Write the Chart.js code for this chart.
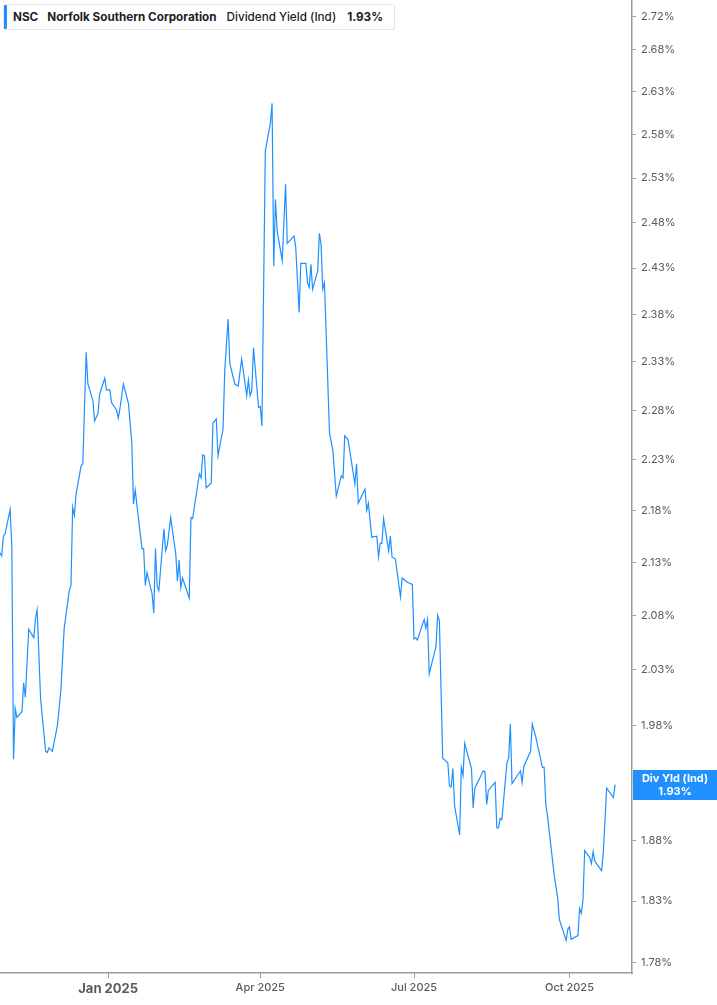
<!DOCTYPE html>
<html>
<head>
<meta charset="utf-8">
<script src="https://cdn.jsdelivr.net/npm/chart.js@4/dist/chart.umd.min.js"></script>
<style>
  html, body { margin: 0; padding: 0; background: #fff; }
  #wrap { position: relative; width: 717px; height: 1005px; }
  #badge {
    position: absolute; left: 3px; top: 4px; width: 392px; height: 26px;
    border: 1px solid #e4e6ea; border-radius: 2px; background: #fff;
    font-family: Inter, "Noto Sans", sans-serif; font-size: 11.7px; color: #1b1d29;
    display: flex; align-items: center; box-sizing: border-box; white-space: nowrap;
  }
  #badge span { flex: none; }
  #badge .bar { width: 3px; height: 24px; background: #1e90ff; margin-right: 6px; border-radius: 1px; }
  #badge .tk { font-weight: 700; margin-right: 9px; }
  #badge .nm { font-weight: 700; margin-right: 10px; }
  #badge .mt { font-weight: 500; margin-right: 11px; }
  #badge .vl { font-weight: 700; }
</style>
</head>
<body>
<div id="wrap">
  <canvas id="chart"></canvas>
  <div id="badge"><span class="bar"></span><span class="tk" id="tk"></span><span class="nm" id="nm"></span><span class="mt" id="mt"></span><span class="vl" id="vl"></span></div>
</div>
<script>
const ticker = "NSC";
const companyName = "Norfolk Southern Corporation";
const metricName = "Dividend Yield (Ind)";
const shortName = "Div Yld (Ind)";

// daily dividend yield (%)
const dates = [
  "2024-10-29","2024-10-30","2024-10-31","2024-11-01","2024-11-04","2024-11-05","2024-11-06","2024-11-07","2024-11-08","2024-11-11",
  "2024-11-12","2024-11-13","2024-11-15","2024-11-18","2024-11-19","2024-11-20","2024-11-22","2024-11-25","2024-11-26","2024-11-27",
  "2024-11-29","2024-12-02","2024-12-04","2024-12-06","2024-12-09","2024-12-10","2024-12-11","2024-12-12","2024-12-13","2024-12-16",
  "2024-12-17","2024-12-19","2024-12-20","2024-12-23","2024-12-24","2024-12-26","2024-12-27","2024-12-30","2024-12-31","2025-01-02",
  "2025-01-03","2025-01-06","2025-01-07","2025-01-08","2025-01-10","2025-01-13","2025-01-15","2025-01-16","2025-01-17","2025-01-21",
  "2025-01-22","2025-01-23","2025-01-24","2025-01-27","2025-01-28","2025-01-29","2025-01-30","2025-01-31","2025-02-03","2025-02-04",
  "2025-02-05","2025-02-07","2025-02-10","2025-02-11","2025-02-12","2025-02-13","2025-02-14","2025-02-18","2025-02-19","2025-02-20",
  "2025-02-24","2025-02-25","2025-02-26","2025-02-27","2025-02-28","2025-03-03","2025-03-04","2025-03-06","2025-03-07","2025-03-10",
  "2025-03-11","2025-03-13","2025-03-14","2025-03-17","2025-03-19","2025-03-21","2025-03-24","2025-03-25","2025-03-26","2025-03-27",
  "2025-03-28","2025-03-31","2025-04-01","2025-04-02","2025-04-04","2025-04-07","2025-04-08","2025-04-09","2025-04-10","2025-04-11",
  "2025-04-14","2025-04-16","2025-04-17","2025-04-21","2025-04-22","2025-04-24","2025-04-25","2025-04-28","2025-04-29","2025-04-30",
  "2025-05-01","2025-05-02","2025-05-05","2025-05-06","2025-05-07","2025-05-08","2025-05-09","2025-05-12","2025-05-14","2025-05-16",
  "2025-05-19","2025-05-20","2025-05-21","2025-05-23","2025-05-27","2025-05-28","2025-05-29","2025-06-02","2025-06-03","2025-06-04",
  "2025-06-06","2025-06-09","2025-06-10","2025-06-11","2025-06-12","2025-06-13","2025-06-16","2025-06-17","2025-06-18","2025-06-20",
  "2025-06-23","2025-06-24","2025-06-27","2025-06-30","2025-07-01","2025-07-02","2025-07-03","2025-07-07","2025-07-08","2025-07-09",
  "2025-07-10","2025-07-14","2025-07-15","2025-07-16","2025-07-18","2025-07-21","2025-07-22","2025-07-23","2025-07-24","2025-07-25",
  "2025-07-28","2025-07-29","2025-07-30","2025-07-31","2025-08-04","2025-08-05","2025-08-06","2025-08-11","2025-08-12","2025-08-13",
  "2025-08-14","2025-08-18","2025-08-19","2025-08-20","2025-08-21","2025-08-22","2025-08-25","2025-08-26","2025-08-27","2025-08-28",
  "2025-09-02","2025-09-03","2025-09-04","2025-09-08","2025-09-09","2025-09-11","2025-09-15","2025-09-16","2025-09-17","2025-09-18",
  "2025-09-22","2025-09-24","2025-09-25","2025-09-29","2025-09-30","2025-10-01","2025-10-02","2025-10-06","2025-10-07","2025-10-08",
  "2025-10-09","2025-10-10","2025-10-13","2025-10-14","2025-10-15","2025-10-16","2025-10-20","2025-10-21","2025-10-23","2025-10-27",
  "2025-10-28"
];
const yields = [
  2.139,2.136,2.155,2.157,2.181,2.144,1.950,1.995,1.987,1.992,
  2.018,2.005,2.067,2.059,2.077,2.085,2.004,1.957,1.956,1.960,
  1.957,1.980,2.011,2.068,2.103,2.108,2.183,2.175,2.196,2.224,
  2.226,2.340,2.307,2.290,2.269,2.277,2.297,2.313,2.301,2.301,
  2.288,2.280,2.272,2.282,2.307,2.287,2.247,2.186,2.200,2.143,
  2.143,2.108,2.120,2.100,2.082,2.143,2.107,2.103,2.162,2.141,
  2.146,2.173,2.138,2.112,2.132,2.106,2.115,2.096,2.173,2.172,
  2.216,2.212,2.235,2.234,2.202,2.207,2.267,2.271,2.234,2.261,
  2.321,2.375,2.328,2.307,2.305,2.333,2.295,2.311,2.295,2.300,
  2.345,2.283,2.284,2.264,2.561,2.593,2.616,2.432,2.506,2.471,
  2.438,2.523,2.457,2.465,2.453,2.382,2.435,2.435,2.414,2.409,
  2.434,2.407,2.427,2.468,2.456,2.407,2.414,2.257,2.239,2.194,
  2.214,2.212,2.254,2.250,2.206,2.226,2.187,2.201,2.180,2.187,
  2.154,2.155,2.135,2.148,2.148,2.172,2.141,2.155,2.135,2.133,
  2.097,2.115,2.111,2.109,2.058,2.059,2.057,2.076,2.068,2.076,
  2.026,2.051,2.080,2.075,1.951,1.947,1.927,1.926,1.942,1.910,
  1.885,1.943,1.936,1.964,1.942,1.908,1.925,1.940,1.939,1.911,
  1.923,1.930,1.891,1.891,1.899,1.898,1.947,1.951,1.981,1.929,
  1.940,1.930,1.944,1.957,1.981,1.970,1.943,1.943,1.911,1.901,
  1.851,1.833,1.815,1.798,1.807,1.809,1.799,1.802,1.824,1.820,
  1.831,1.872,1.866,1.861,1.871,1.863,1.855,1.870,1.925,1.917,
  1.928
];

const yTicks = [1.78, 1.83, 1.88, 1.93, 1.98, 2.03, 2.08, 2.13, 2.18, 2.23, 2.28, 2.33, 2.38, 2.43, 2.48, 2.53, 2.58, 2.63, 2.68, 2.72];
const xTickDates = ["2025-01-01", "2025-04-01", "2025-07-01", "2025-10-01"];
const xTickLabels = ["Jan 2025", "Apr 2025", "Jul 2025", "Oct 2025"];

const lineColor = "#1e90ff";
const axisColor = "#9a9a9a";
const labelColor = "#5a5a5a";
const fontFamily = "Inter, 'Noto Sans', sans-serif";

// days since 2025-01-01, used as the x value
function dayNum(s) {
  return Math.round((Date.parse(s) - Date.parse("2025-01-01")) / 86400000);
}

const lastValue = yields[yields.length - 1];
document.getElementById("tk").textContent = ticker;
document.getElementById("nm").textContent = companyName;
document.getElementById("mt").textContent = metricName;
document.getElementById("vl").textContent = lastValue.toFixed(2) + "%";

// blue value tag on the right axis
const lastTag = {
  id: "lastTag",
  afterDraw(chart) {
    const ctx = chart.ctx;
    const area = chart.chartArea;
    const y = chart.scales.y.getPixelForValue(lastValue);
    const left = area.right + 1;
    const w = chart.width - left;
    ctx.save();
    ctx.fillStyle = "#2090ff";
    ctx.fillRect(left, Math.round(y) - 15, w, 30);
    ctx.fillStyle = "#fff";
    ctx.textAlign = "center";
    ctx.textBaseline = "middle";
    ctx.font = "bold 11px " + fontFamily;
    ctx.fillText(shortName, left + w / 2, y - 6);
    ctx.fillText(lastValue.toFixed(2) + "%", left + w / 2, y + 7);
    ctx.restore();
  }
};

const canvas = document.getElementById("chart");
canvas.width = 717;
canvas.height = 1005;
canvas.style.width = "717px";
canvas.style.height = "1005px";

new Chart(canvas.getContext("2d"), {
  type: "line",
  data: {
    datasets: [{
      data: dates.map((d, i) => ({ x: dayNum(d), y: yields[i] })),
      borderColor: lineColor,
      borderWidth: 1.2,
      pointRadius: 0,
      tension: 0,
      fill: false
    }]
  },
  options: {
    responsive: false,
    animation: false,
    layout: { padding: 0 },
    plugins: { legend: { display: false }, tooltip: { enabled: false } },
    scales: {
      x: {
        type: "linear",
        min: dayNum(dates[0]),
        max: 310,
        afterBuildTicks: (axis) => { axis.ticks = xTickDates.map(d => ({ value: dayNum(d) })); },
        afterFit: (axis) => { axis.height = 32; axis.paddingLeft = 0; axis.paddingRight = 0; },
        grid: { drawOnChartArea: false, drawTicks: true, tickLength: 5, color: axisColor },
        border: { display: true, color: axisColor, width: 1.5 },
        ticks: {
          autoSkip: false,
          maxRotation: 0,
          padding: 3,
          color: labelColor,
          font: (c) => c.index === 0
            ? { family: fontFamily, size: 13, weight: "bold" }
            : { family: fontFamily, size: 11, weight: "500" },
          callback: (v, i) => xTickLabels[i]
        }
      },
      y: {
        type: "logarithmic",
        position: "right",
        min: 1.772,
        max: 2.74,
        afterBuildTicks: (axis) => { axis.ticks = yTicks.map(v => ({ value: v })); },
        afterFit: (axis) => { axis.width = 85; axis.paddingTop = 0; axis.paddingBottom = 0; },
        grid: { drawOnChartArea: false, drawTicks: true, tickLength: 4, color: axisColor },
        border: { display: true, color: axisColor, width: 1.5 },
        ticks: {
          autoSkip: false,
          padding: 5,
          color: labelColor,
          font: { family: fontFamily, size: 11 },
          callback: (v) => Number(v).toFixed(2) + "%"
        }
      }
    }
  },
  plugins: [lastTag]
});
</script>
</body>
</html>
